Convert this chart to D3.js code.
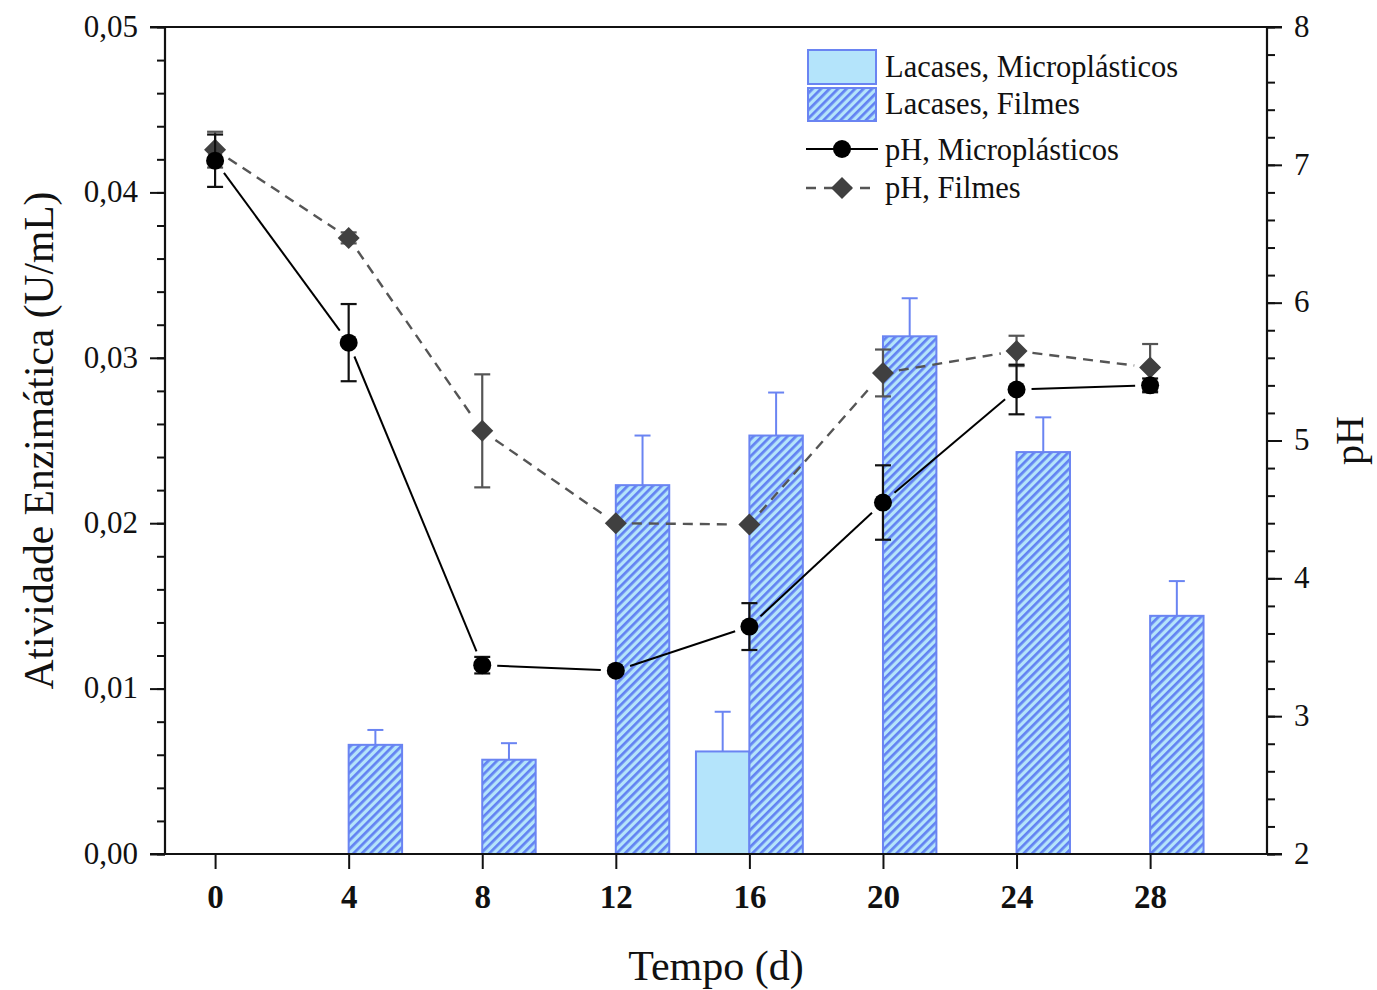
<!DOCTYPE html>
<html>
<head>
<meta charset="utf-8">
<script src="https://cdn.jsdelivr.net/npm/d3@7/dist/d3.min.js"></script>
<style>
  html, body { margin: 0; padding: 0; background: #fff; }
  svg { display: block; font-family: "Liberation Serif", "Times New Roman", serif; }
  svg text { font-family: "Liberation Serif", "Times New Roman", serif; }
</style>
</head>
<body>
<svg id="chart" width="1377" height="990"></svg>
<script>
// Sampling days
const days = [0, 4, 8, 12, 16, 20, 24, 28];

// Laccase activity (U/mL), microplastics
const lacMicroDays = [16];
const lacMicroVals = [0.0062];
const lacMicroErr  = [0.0024];

// Laccase activity (U/mL), films
const lacFilmDays = [4, 8, 12, 16, 20, 24, 28];
const lacFilmVals = [0.0066, 0.0057, 0.0223, 0.0253, 0.0313, 0.0243, 0.0144];
const lacFilmErr  = [0.0009, 0.0010, 0.0030, 0.0026, 0.0023, 0.0021, 0.0021];

// pH, microplastics
const phMicroVals = [7.03, 5.71, 3.37, 3.33, 3.65, 4.55, 5.37, 5.40];
const phMicroErr  = [0.19, 0.28, 0.06, 0.02, 0.17, 0.27, 0.18, 0.05];

// pH, films
const phFilmVals = [7.11, 6.47, 5.07, 4.40, 4.39, 5.49, 5.65, 5.53];
const phFilmErr  = [0.13, 0.04, 0.41, 0.0, 0.0, 0.17, 0.11, 0.17];

// Tick labels
const xTickLabels  = ["0", "4", "8", "12", "16", "20", "24", "28"];
const yLTickLabels = ["0,00", "0,01", "0,02", "0,03", "0,04", "0,05"];
const yRTickLabels = ["2", "3", "4", "5", "6", "7", "8"];

const legendLabels = ["Lacases, Microplásticos", "Lacases, Filmes", "pH, Microplásticos", "pH, Filmes"];

const W = 1377, H = 990;
const plot = { left: 165, right: 1267, top: 27, bottom: 854 };
const barWidthDays = 1.6;
const serif = '"Liberation Serif", "Times New Roman", serif';

const svg = d3.select("#chart");

const x = d3.scaleLinear().domain([-1.5, 31.5]).range([plot.left, plot.right]);
const yL = d3.scaleLinear().domain([0, 0.05]).range([plot.bottom, plot.top]);
const yR = d3.scaleLinear().domain([2, 8]).range([plot.bottom, plot.top]);

const barStroke = "#6a84f2";
const barFill = "#b4e4fb";
const hatchColor = "#6282f2";

// Hatch pattern for film bars
const defs = svg.append("defs");
const pat = defs.append("pattern")
  .attr("id", "hatch")
  .attr("patternUnits", "userSpaceOnUse")
  .attr("width", 6).attr("height", 6)
  .attr("patternTransform", "rotate(45)");
pat.append("rect").attr("width", 6).attr("height", 6).attr("fill", barFill);
pat.append("rect").attr("x", 0).attr("y", 0).attr("width", 2.7).attr("height", 6).attr("fill", hatchColor);

const gBars = svg.append("g");

// Microplastic bars sit left of the tick, film bars right of it
const microData = lacMicroDays.map((d, i) => ({ d, v: lacMicroVals[i], e: lacMicroErr[i] }));
const filmData = lacFilmDays.map((d, i) => ({ d, v: lacFilmVals[i], e: lacFilmErr[i] }));

function drawBars(data, x0fn, fill) {
  const g = gBars.append("g");
  const mid = d => (x(x0fn(d.d)) + x(x0fn(d.d) + barWidthDays)) / 2;
  g.selectAll("line.err").data(data).join("line")
    .attr("x1", mid).attr("x2", mid)
    .attr("y1", d => yL(d.v)).attr("y2", d => yL(d.v + d.e))
    .attr("stroke", barStroke).attr("stroke-width", 2);
  g.selectAll("line.cap").data(data).join("line")
    .attr("x1", d => mid(d) - 8).attr("x2", d => mid(d) + 8)
    .attr("y1", d => yL(d.v + d.e)).attr("y2", d => yL(d.v + d.e))
    .attr("stroke", barStroke).attr("stroke-width", 2);
  g.selectAll("rect").data(data).join("rect")
    .attr("x", d => x(x0fn(d.d)))
    .attr("width", d => x(x0fn(d.d) + barWidthDays) - x(x0fn(d.d)))
    .attr("y", d => yL(d.v))
    .attr("height", d => yL(0) - yL(d.v))
    .attr("fill", fill)
    .attr("stroke", barStroke).attr("stroke-width", 2);
}
drawBars(microData, d => d - barWidthDays, barFill);
drawBars(filmData, d => d, "url(#hatch)");

// pH series: segments stop short of each marker
function drawSeries(vals, errs, opts) {
  const g = svg.append("g");
  const pts = days.map((d, i) => ({ px: x(d), py: yR(vals[i]), v: vals[i], e: errs[i] }));
  for (let i = 0; i < pts.length - 1; i++) {
    const a = pts[i], b = pts[i + 1];
    const dx = b.px - a.px, dy = b.py - a.py;
    const len = Math.hypot(dx, dy);
    const gap = opts.gap;
    if (len <= 2 * gap) continue;
    const ux = dx / len, uy = dy / len;
    g.append("line")
      .attr("x1", a.px + ux * gap).attr("y1", a.py + uy * gap)
      .attr("x2", b.px - ux * gap).attr("y2", b.py - uy * gap)
      .attr("stroke", opts.lineColor).attr("stroke-width", opts.lineWidth)
      .attr("stroke-dasharray", opts.dash || null);
  }
  // error bars
  pts.filter(p => p.e > 0).forEach(p => {
    const top = yR(p.v + p.e), bot = yR(p.v - p.e);
    g.append("line").attr("x1", p.px).attr("x2", p.px).attr("y1", top).attr("y2", bot)
      .attr("stroke", opts.errColor).attr("stroke-width", 2.2);
    [top, bot].forEach(yy => g.append("line")
      .attr("x1", p.px - 8).attr("x2", p.px + 8).attr("y1", yy).attr("y2", yy)
      .attr("stroke", opts.errColor).attr("stroke-width", 2.2));
  });
  // markers
  pts.forEach(p => opts.marker(g, p.px, p.py));
}

function circleMarker(g, cx, cy) {
  g.append("circle").attr("cx", cx).attr("cy", cy).attr("r", 9).attr("fill", "#000");
}
function diamondMarker(g, cx, cy) {
  const s = 11;
  g.append("path")
    .attr("d", `M${cx},${cy - s}L${cx + s},${cy}L${cx},${cy + s}L${cx - s},${cy}Z`)
    .attr("fill", "#404040");
}

drawSeries(phFilmVals, phFilmErr, {
  gap: 16, lineColor: "#555", lineWidth: 2.4, dash: "10,7", errColor: "#555", marker: diamondMarker
});
drawSeries(phMicroVals, phMicroErr, {
  gap: 15, lineColor: "#000", lineWidth: 2, errColor: "#111", marker: circleMarker
});

// Axes
const axisColor = "#111";
function styleAxis(g) {
  g.attr("font-family", serif);
  g.selectAll(".domain").remove();
  g.selectAll(".tick line").attr("stroke", axisColor).attr("stroke-width", 2);
  g.selectAll(".tick text").attr("fill", "#111").style("font-family", serif);
}

// left axis
const gL = svg.append("g").attr("transform", `translate(${plot.left},0)`);
gL.call(d3.axisLeft(yL).tickValues(d3.range(0, 0.0501, 0.002)).tickSize(8).tickFormat(""));
styleAxis(gL);
const gL2 = svg.append("g").attr("transform", `translate(${plot.left},0)`);
gL2.call(d3.axisLeft(yL).tickValues(yLTickLabels.map((_, i) => i * 0.01)).tickSize(15).tickPadding(12)
  .tickFormat((d, i) => yLTickLabels[i]));
styleAxis(gL2);
gL2.selectAll(".tick text").style("font-size", "31px").attr("dy", "0.3em");

// right axis
const gR = svg.append("g").attr("transform", `translate(${plot.right},0)`);
gR.call(d3.axisRight(yR).tickValues(d3.range(2, 8.01, 0.2)).tickSize(8).tickFormat(""));
styleAxis(gR);
const gR2 = svg.append("g").attr("transform", `translate(${plot.right},0)`);
gR2.call(d3.axisRight(yR).tickValues(yRTickLabels.map(Number)).tickSize(15).tickPadding(12)
  .tickFormat((d, i) => yRTickLabels[i]));
styleAxis(gR2);
gR2.selectAll(".tick text").style("font-size", "31px").attr("dy", "0.3em");

// bottom axis
const gB = svg.append("g").attr("transform", `translate(0,${plot.bottom})`);
gB.call(d3.axisBottom(x).tickValues(days).tickSize(15).tickPadding(16)
  .tickFormat((d, i) => xTickLabels[i]));
styleAxis(gB);
gB.selectAll(".tick text").style("font-size", "33px").style("font-weight", "bold");

// frame lines
const frame = svg.append("g").attr("stroke", axisColor).attr("stroke-width", 2.2);
frame.append("line").attr("x1", plot.left - 15).attr("x2", plot.right + 15).attr("y1", plot.top).attr("y2", plot.top);
frame.append("line").attr("x1", plot.left - 15).attr("x2", plot.right + 15).attr("y1", plot.bottom).attr("y2", plot.bottom);
frame.append("line").attr("x1", plot.left).attr("x2", plot.left).attr("y1", plot.top).attr("y2", plot.bottom);
frame.append("line").attr("x1", plot.right).attr("x2", plot.right).attr("y1", plot.top).attr("y2", plot.bottom);

// axis titles
svg.append("text")
  .attr("transform", `translate(53,${(plot.top + plot.bottom) / 2}) rotate(-90)`)
  .attr("text-anchor", "middle").style("font-size", "41.5px").attr("fill", "#111")
  .text("Atividade Enzimática (U/mL)");
svg.append("text")
  .attr("x", (plot.left + plot.right) / 2).attr("y", 980)
  .attr("text-anchor", "middle").style("font-size", "42px").attr("fill", "#111")
  .text("Tempo (d)");
svg.append("text")
  .attr("transform", `translate(1363,${(plot.top + plot.bottom) / 2}) rotate(-90)`)
  .attr("text-anchor", "middle").style("font-size", "40px").attr("fill", "#111")
  .text("pH");

// legend
const lg = svg.append("g");
const lgText = 885;
lg.append("rect").attr("x", 808).attr("y", 50).attr("width", 68).attr("height", 34)
  .attr("fill", barFill).attr("stroke", barStroke).attr("stroke-width", 2);
lg.append("rect").attr("x", 808).attr("y", 88).attr("width", 68).attr("height", 33)
  .attr("fill", "url(#hatch)").attr("stroke", barStroke).attr("stroke-width", 2);
lg.append("line").attr("x1", 806).attr("x2", 878).attr("y1", 149).attr("y2", 149)
  .attr("stroke", "#000").attr("stroke-width", 2);
circleMarker(lg, 842, 149);
lg.append("line").attr("x1", 806).attr("x2", 878).attr("y1", 188).attr("y2", 188)
  .attr("stroke", "#555").attr("stroke-width", 2.4).attr("stroke-dasharray", "10,8");
diamondMarker(lg, 842, 188);
[77, 114, 160, 198].forEach((yy, i) => {
  lg.append("text").attr("x", lgText).attr("y", yy)
    .style("font-size", "30.5px").attr("fill", "#111").text(legendLabels[i]);
});
</script>
</body>
</html>
